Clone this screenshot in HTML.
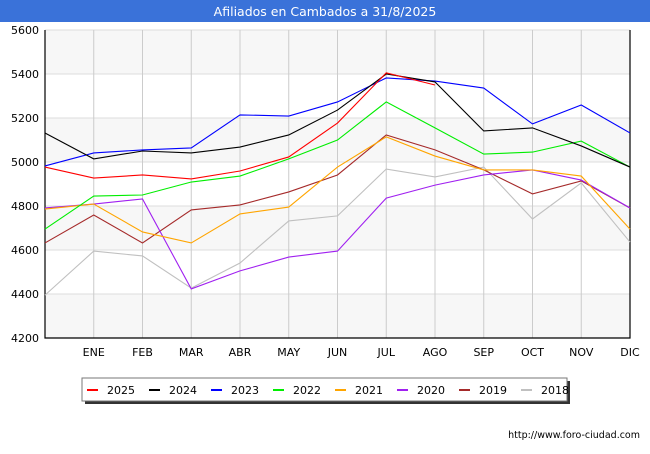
<!DOCTYPE html>
<html><head><meta charset="utf-8"><style>
body{margin:0;background:#fff;font-family:"DejaVu Sans","Liberation Sans",sans-serif}
svg text{font-family:"DejaVu Sans","Liberation Sans",sans-serif}
</style></head><body>
<svg id="chart" width="650" height="450" xmlns="http://www.w3.org/2000/svg">
<rect x="0" y="0" width="650" height="22" fill="#3a72d9"/>
<text x="325" y="16" text-anchor="middle" fill="#fff" font-size="12.5">Afiliados en Cambados a 31/8/2025</text>
<g id="plot"></g>
<rect x="85" y="381" width="485" height="23" fill="#333"/>
<rect x="82" y="378" width="485" height="23" fill="#fff" stroke="#777"/>
<g id="legend"></g>
<text x="640" y="438" text-anchor="end" font-size="9.5" fill="#000">http://www.foro-ciudad.com</text>
</svg>
<script>
const months=["","ENE","FEB","MAR","ABR","MAY","JUN","JUL","AGO","SEP","OCT","NOV","DIC"];
const yTicks=[4200,4400,4600,4800,5000,5200,5400,5600];
const seriesNames=["2025","2024","2023","2022","2021","2020","2019","2018"];
const seriesColors=["#ff0000","#000000","#0000ff","#00ee00","#ffa500","#a020f0","#a52a2a","#c0c0c0"];
const s2025=[4977,4927,4941,4923,4959,5023,5177,5405,5350];
const s2024=[5132,5014,5050,5041,5068,5123,5236,5400,5364,5141,5155,5073,4977];
const s2023=[4982,5041,5055,5064,5214,5209,5273,5382,5368,5336,5173,5259,5132];
const s2022=[4695,4845,4850,4909,4936,5014,5100,5273,5155,5036,5045,5095,4977];
const s2021=[4786,4809,4682,4632,4764,4795,4977,5114,5027,4964,4964,4936,4695];
const s2020=[4791,4809,4832,4423,4505,4568,4595,4836,4895,4941,4964,4918,4791];
const s2019=[4632,4759,4632,4782,4805,4864,4941,5123,5055,4964,4855,4914,4791];
const s2018=[4395,4595,4573,4427,4541,4732,4755,4968,4932,4977,4741,4905,4636];
const allSeries=[s2025,s2024,s2023,s2022,s2021,s2020,s2019,s2018];
const NS="http://www.w3.org/2000/svg";
const L=45,R=630,T=30,B=338,ymin=4200,ymax=5600;
const X=i=>L+i*(R-L)/12;
const Y=v=>B-(v-ymin)/(ymax-ymin)*(B-T);
const plot=document.getElementById('plot');
function mk(tag,attrs,parent){const e=document.createElementNS(NS,tag);for(const k in attrs)e.setAttribute(k,attrs[k]);(parent||plot).appendChild(e);return e;}
for(let i=0;i<yTicks.length-1;i++){
  if(i%2===0){const b=mk('rect',{x:L,y:Y(yTicks[i+1]),width:R-L,height:Y(yTicks[i])-Y(yTicks[i+1]),fill:'#f7f7f7'});
  
  }
}
yTicks.forEach(v=>{
  const g=mk('line',{x1:L,x2:R,y1:Y(v),y2:Y(v),stroke:'#ddd','stroke-width':1});
  
  
  const t=mk('text',{x:L-6,y:Y(v)+4,'text-anchor':'end','font-size':11,fill:'#000'});
  t.textContent=v;
  
  
});
months.forEach((m,i)=>{
  if(i===0)return;
  const g=mk('line',{x1:X(i),x2:X(i),y1:T,y2:B,stroke:'#ccc','stroke-width':1});
  
  
  const t=mk('text',{x:X(i),y:B+18,'text-anchor':'middle','font-size':11,fill:'#000'});
  t.textContent=m;
  
  
});
const ax=mk('path',{d:`M${L},${T}V${B}H${R}V${T}`,fill:'none',stroke:'#000','stroke-width':1.2});


for(let s=allSeries.length-1;s>=0;s--){
  const pts=allSeries[s].map((v,i)=>X(i)+','+Y(v)).join(' ');
  const p=mk('polyline',{points:pts,fill:'none',stroke:seriesColors[s],'stroke-width':1.1});
  
  
}
const lg=document.getElementById('legend');
seriesNames.forEach((n,i)=>{
  const x=87+i*62;
  const sw=mk('rect',{x:x,y:389,width:11,height:2,fill:seriesColors[i]},lg);
  
  
  const t=mk('text',{x:x+20,y:394,'font-size':11,fill:'#000'},lg);
  t.textContent=n;
  
  
});
</script>
</body></html>
